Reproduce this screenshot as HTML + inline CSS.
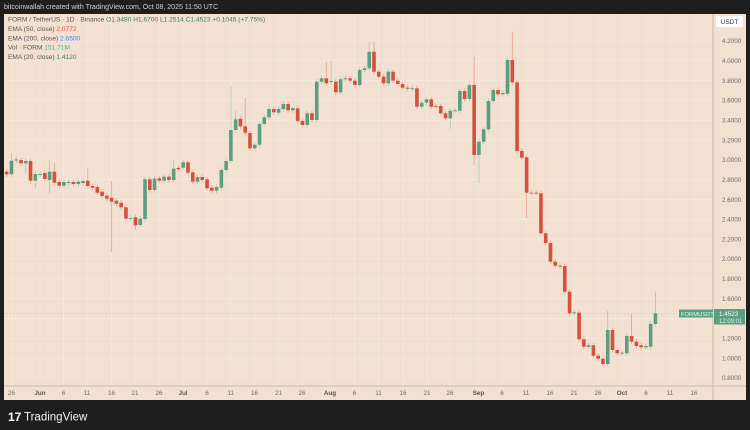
<!DOCTYPE html>
<html><head><meta charset="utf-8"><style>
html,body{margin:0;padding:0;background:#1e1e1e;width:750px;height:430px;overflow:hidden;font-family:"Liberation Sans",sans-serif}
svg{position:absolute;left:0;top:0}
</style></head><body>
<svg id="s" width="750" height="430" xmlns="http://www.w3.org/2000/svg" font-family="Liberation Sans, sans-serif">
<rect x="0" y="0" width="750" height="430" fill="#1e1e1e"/>
<rect x="4" y="14" width="742" height="386" fill="#f2e0d0"/>
<g id="grid"></g>
<line x1="4" y1="386" x2="746" y2="386" stroke="#c9b8a8" stroke-width="1"/>
<line x1="713" y1="14" x2="713" y2="400" stroke="#c9b8a8" stroke-width="1"/>
<line x1="4" y1="313.3" x2="713" y2="313.3" stroke="#9fc7b0" stroke-width="0.6" stroke-dasharray="1,2"/>
<g id="c"></g>
<g id="t" font-size="6.3" fill="#6b6b6b"></g>
<text x="4" y="9" font-size="7" fill="#d0d0d0">bitcoinwallah created with TradingView.com, Oct 08, 2025 11:50 UTC</text>
<g font-size="6.6" fill="#555">
<text x="8" y="21.5">FORM / TetherUS · 1D · Binance <tspan fill="#3f7d5e">O1.3480 H1.6700 L1.2514 C1.4523 +0.1045 (+7.75%)</tspan></text>
<text x="8" y="31">EMA (50, close) <tspan fill="#e8484a">2.0772</tspan></text>
<text x="8" y="40.5">EMA (200, close) <tspan fill="#4a7ef0">2.6500</tspan></text>
<text x="8" y="49.5">Vol · FORM <tspan fill="#3eb79a">151.71M</tspan></text>
<text x="8" y="59">EMA (20, close) <tspan fill="#3f7d5e">1.4120</tspan></text>
</g>
<rect x="716" y="16" width="27" height="11" rx="2" fill="#fff"/>
<text x="729.5" y="24" font-size="6.5" fill="#333" text-anchor="middle">USDT</text>
<rect x="679" y="309.5" width="34" height="8" fill="#5b9f80"/>
<text x="681" y="316" font-size="5.8" fill="#e8f5ee">FORMUSDT</text>
<rect x="714" y="309" width="31" height="15.5" fill="#5b9f80"/>
<text x="719" y="316" font-size="6.3" fill="#fff">1.4523</text>
<text x="719" y="322.8" font-size="6" fill="#dff0e6">12:09:01</text>
<text x="8" y="421" font-size="12" font-weight="bold" fill="#fff">17</text>
<text x="24" y="420.5" font-size="11.5" fill="#f2f2f2">TradingView</text>
</svg>
<script>
(function(){
var D=[[171.7,174.3],[174.3,160.7,152.7],[160.5,159.5,156],[160,163.3],[163.3,161,0,173],[161,180.7],[180.7,174,0,188],[174.5,174],[173,179],[180,171.7,160,194],[171.7,182.7,163],[182,185.7],[185.7,182],[183,182],[182,184],[184,181.7],[183,181],[180.7,186,167.7],[186,187.7],[187,192.7],[191.7,196],[195.7,198.7],[197.7,201.7,181,252],[200.7,203.7],[202.7,207.3],[207.3,218.7],[218,218],[217.3,225.3,0,230],[225,218.7],[219,179.3],[179.3,190],[190,178.7],[178.3,180.7],[180.7,176.7],[176.7,180],[180,168.7,160],[168,169.3],[167.7,162.3],[162.3,172.7],[172.3,181.7],[181.7,177],[177,180],[179.3,188.3],[187.7,190.7],[190.7,187],[187.7,170],[170,161],[161,130,86],[130,119.3,110],[118.7,126.3,116],[126.3,132.7,98],[133,148.3],[148.3,144.7],[144.7,124],[124,117.3],[117.3,109],[109,112.3],[112.7,109],[109,104],[104,110.3],[110.3,108],[108.3,121],[121,125],[125,113.3],[113.3,120],[120,81.7],[81.7,78.3],[78.3,83.3,61.7],[82,81,61],[81.7,92.3],[92.3,79.3],[79.3,78.3],[78.3,80.7],[80.7,85],[85,70],[70,68.3],[68.3,51.7,42],[51.7,71.7,41.7],[71.7,76.7],[76.7,83.3],[83.3,71.7],[71.7,80.7],[80.7,84],[84,87.7],[87.7,88.7],[88.3,88.3],[88.3,106.7],[106.7,102.7],[102.7,99.3],[99.3,106.7],[106,106.7],[106,113.3],[113.3,118.3],[118.3,110.7,0,129],[110.7,110.3],[110.7,91],[91,99],[99,85],[85,155,56.7,165],[155,141.7,0,183],[141.7,129.3],[129.3,101],[101,90],[90,94.3],[94.3,93],[93.7,60],[60,82.3,31.7],[82.3,151],[151,157.7],[157.3,192.7,0,218],[192.7,192.7],[192.7,193],[193.3,233.3],[233.3,243],[243,261.7],[261.7,265.7],[265.7,266],[266,291.7],[291.7,313.3],[313.3,312.3],[312.7,339.3],[339.3,346.7],[347,345.3],[345.3,355.7],[355.7,358.7],[358.7,364,0,366.7],[364,330,310.7],[330,350],[350,353.3],[353.3,352.7],[353.3,336],[336,341.7,314],[341.7,346],[345.3,347.3],[347.3,346],[346.7,324],[324,313.3,291.7]];
var h="";
for(var i=0;i<D.length;i++){var d=D[i],x=6.7+4.77*i,o=d[0],c=d[1],tp=Math.min(o,c),bt=Math.max(o,c);
var hi=d[2]||(tp-2.5),lo=d[3]||(bt+2.5),col=(c<=o)?"#5b9f80":"#d4503f";
h+='<line x1="'+x+'" x2="'+x+'" y1="'+hi+'" y2="'+lo+'" stroke="'+col+'" stroke-opacity="0.45" stroke-width="0.8"/>';
h+='<rect x="'+(x-1.8)+'" y="'+tp+'" width="3.6" height="'+Math.max(bt-tp,0.9)+'" fill="'+col+'"/>';}
document.getElementById("c").innerHTML=h;
var t="",gr="";
for(var k=0;k<18;k++){var p=(4.2-k*0.2),y=41+k*19.82;t+='<text x="722" y="'+(y+2.2)+'">'+p.toFixed(4)+'</text>';gr+='<line x1="4" x2="713" y1="'+y+'" y2="'+y+'" stroke="#f7ebe0" stroke-width="0.7"/>';}
var L=[["26",11.5],["Jun",40,1],["6",63.6],["11",87],["16",111.5],["21",135],["26",159],["Jul",183,1],["6",207],["11",230.6],["16",254.5],["21",278.5],["26",302],["Aug",330,1],["6",354.5],["11",378.5],["16",403],["21",427],["26",450],["Sep",478.5,1],["6",502],["11",526],["16",550],["21",574],["26",598],["Oct",622,1],["6",646],["11",670],["16",694]];
L.forEach(function(a){t+='<text x="'+a[1]+'" y="395" text-anchor="middle"'+(a[2]?' font-weight="bold" fill="#555"':'')+'>'+a[0]+'</text>';gr+='<line x1="'+a[1]+'" x2="'+a[1]+'" y1="14" y2="386" stroke="#f7ebe0" stroke-width="0.7"/>';});
document.getElementById("t").innerHTML=t;document.getElementById("grid").innerHTML=gr;
})();
</script>
</body></html>
